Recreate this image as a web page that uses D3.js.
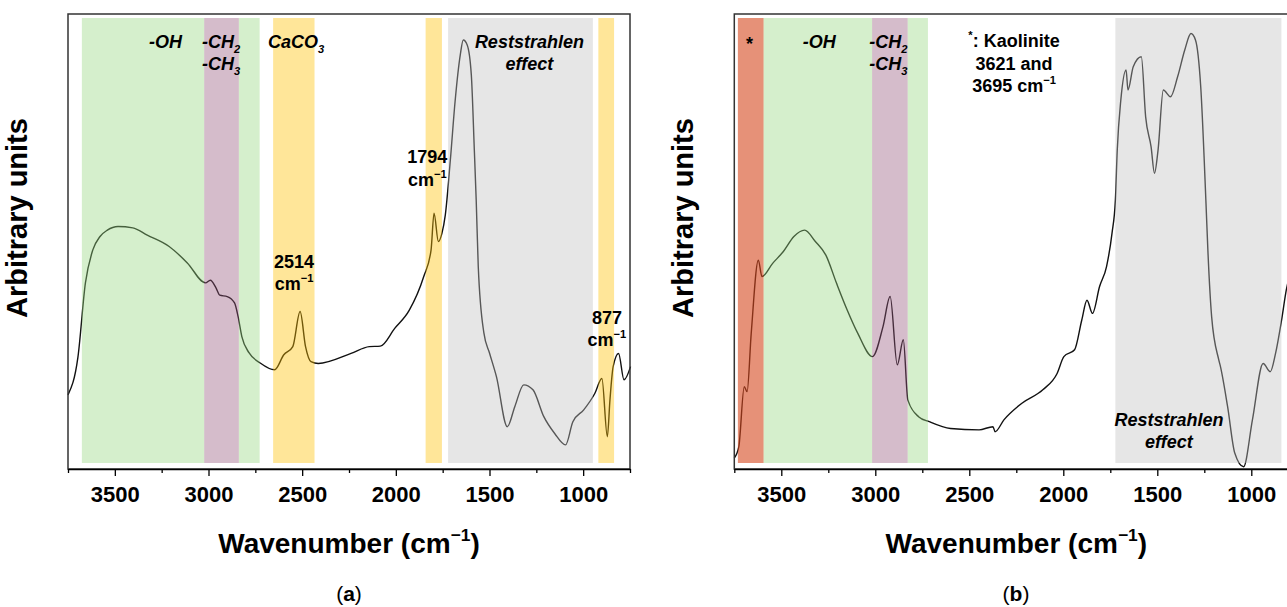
<!DOCTYPE html>
<html>
<head>
<meta charset="utf-8">
<script src="https://cdn.jsdelivr.net/npm/d3@7"></script>
<style>
  body { margin: 0; background: #fff; }
  text { font-family: "Liberation Sans", Arial, sans-serif; }
</style>
</head>
<body>
<svg id="fig" width="1287" height="607"></svg>
<script>

// spectrum (a)
var wnA = [3750,3697,3657,3618,3579,3540,3483,3404,3327,3210,3113,3016,2990,2960,2940,2900,2861,2842,2822,2783,2724,2647,2598,2550,2511,2482,2453,2414,2239,2142,2083,2006,1928,1851,1812,1796,1773,1754,1736,1709,1683,1656,1640,1619,1597,1581,1571,1560,1530,1500,1463,1405,1365,1317,1268,1210,1152,1094,1055,997,938,900,871,857,840,811,782,747];
var absA = [16.3,24.6,40.9,48.1,51.1,52.5,53.3,53.0,51.4,48.9,45.3,40.9,41.5,39.8,38.2,37.9,36.5,33.5,29.1,25.5,23.3,21.8,25.1,26.9,34.6,26.9,23.6,23.2,25.4,26.9,27.0,30.9,34.9,42.3,48.1,56.2,50.0,51.8,55.8,67.9,81.1,91.0,94.3,93.2,86.6,70.1,59.1,44.5,29.9,25.5,20.3,9.3,13.7,18.5,17.4,11.5,7.8,5.3,10.4,13.0,16.6,19.9,7.1,15.2,22.5,25.4,19.6,22.5];

// spectrum (b)
var wnB = [3750,3726,3697,3682,3660,3622,3603,3546,3489,3433,3376,3319,3263,3206,3149,3093,3015,2959,2921,2883,2851,2827,2770,2713,2600,2448,2374,2363,2316,2222,2109,2033,1997,1940,1902,1874,1845,1807,1770,1741,1723,1713,1694,1666,1656,1628,1585,1562,1533,1515,1496,1468,1430,1392,1354,1321,1297,1269,1241,1231,1211,1173,1164,1126,1088,1041,994,937,899,871,839,814,800];
var absB = [2.4,4.9,18.1,17.0,29.8,45.9,42.3,45.2,47.8,51.1,52.5,50.0,47.0,40.8,34.9,29.8,24.7,31.3,37.9,22.9,28.4,15.2,11.5,10.4,8.9,8.6,9.3,8.2,10.8,14.4,17.4,21.0,24.7,26.2,32.7,37.1,34.2,40.1,44.5,51.8,59.1,70.1,81.1,87.7,83.3,88.4,90.6,77.4,70.8,65.0,70.1,83.3,81.8,86.2,92.1,95.7,94.3,84.0,58.4,48.1,33.5,24.0,22.5,13.7,3.5,0.5,10.8,23.2,21.4,25.4,32.7,39.3,42];

// shaded regions [from, to, kind]
var bandsA = [[3676,3023,"oh"],[2838,2727,"oh"],[3023,2838,"ch"],[2655,2434,"ca"],[1841,1754,"ca"],[1721,948,"rs"],[919,835,"ca"]];
var bandsB = [[3731,3594,"ka"],[3594,3017,"oh"],[2828,2720,"oh"],[3017,2828,"ch"],[1723,840,"rs"]];

var xDomain = [3750, 750];
var yDomain = [0, 100];
var tickVals = d3.range(3750, 749, -250);

var bandColor = { oh: "rgb(150,215,127)", ch: "rgb(150,87,125)", ca: "rgb(255,192,0)", rs: "rgb(192,192,192)", ka: "rgb(213,72,30)" };
var bandAlpha = { oh: 0.4, ch: 0.4, ca: 0.4, rs: 0.4, ka: 0.6 };

var svg = d3.select("#fig");

function label(g, x, y, parts, opts) {
  // parts: [text, "sub"|"sup"|null]
  var t = g.append("text")
    .attr("x", x).attr("y", y)
    .attr("text-anchor", opts.anchor || "start")
    .attr("font-size", opts.size || 18)
    .attr("font-weight", "bold")
    .attr("font-style", opts.italic ? "italic" : "normal")
    .attr("fill", "#000");
  var shift = 0;
  parts.forEach(function(p) {
    var s = t.append("tspan").text(p[0]);
    var want = p[1] == "sub" ? 5 : p[1] == "sup" ? -Math.round((opts.size || 18) * 0.42) : 0;
    if (want != shift) { s.attr("dy", want - shift); shift = want; }
    if (p[1]) s.attr("font-size", (opts.size || 18) * 0.62);
  });
  return t;
}

function panel(box, wn, ab, bands) {
  var x = d3.scaleLinear().domain(xDomain).range([box.left, box.right]);
  var y = d3.scaleLinear().domain(yDomain).range([box.bottom, box.top]);
  var g = svg.append("g");

  var pts = wn.map(function(d, i) { return [d, ab[i]]; });
  var line = d3.line()
    .x(function(d) { return x(d[0]); })
    .y(function(d) { return y(d[1]); })
    .curve(d3.curveMonotoneX);

  g.append("path").datum(pts)
    .attr("d", line)
    .attr("fill", "none")
    .attr("stroke", "#111")
    .attr("stroke-width", 1.4);

  g.selectAll("rect.band").data(bands).enter().append("rect")
    .attr("class", "band")
    .attr("x", function(d) { return x(d[0]); })
    .attr("width", function(d) { return x(d[1]) - x(d[0]); })
    .attr("y", box.top + 4)
    .attr("height", box.bottom - box.top - 10)
    .attr("fill", function(d) { return bandColor[d[2]]; })
    .attr("fill-opacity", function(d) { return bandAlpha[d[2]]; });

  g.append("rect")
    .attr("x", box.left).attr("y", box.top)
    .attr("width", box.right - box.left).attr("height", box.bottom - box.top)
    .attr("fill", "none").attr("stroke", "#333").attr("stroke-width", 1.5);

  var ax = g.append("g")
    .attr("transform", "translate(0," + box.bottom + ")")
    .call(d3.axisBottom(x).tickValues(tickVals).tickSizeOuter(0)
      .tickFormat(function(d) { return d % 500 == 0 ? d : ""; }));
  ax.select(".domain").attr("stroke", "#000").attr("stroke-width", 1.5);
  ax.selectAll(".tick line").attr("stroke", "#000").attr("stroke-width", 1.3)
    .attr("y2", function(d) { return d % 500 == 0 ? 7 : 4; });
  ax.selectAll(".tick text")
    .attr("y", 33).attr("dy", 0)
    .attr("font-size", 22).attr("font-weight", "bold")
    .attr("font-family", "Liberation Sans, Arial, sans-serif")
    .attr("fill", "#000");

  var cx = (box.left + box.right) / 2;
  label(g, cx, 553, [["Wavenumber (cm", null], ["\u22121", "sup"], [")", null]], { anchor: "middle", size: 28 });

  g.append("text")
    .attr("transform", "translate(" + (box.left - 41) + ",218) rotate(-90)")
    .attr("text-anchor", "middle")
    .attr("font-size", 29).attr("font-weight", "bold")
    .text("Arbitrary units");

  return { g: g, x: x, y: y };
}

var pa = panel({ left: 68, right: 630, top: 14, bottom: 469 }, wnA, absA, bandsA);
var pb = panel({ left: 734.3, right: 1298.3, top: 14, bottom: 469 }, wnB, absB, bandsB);

// annotations (a)
var g = pa.g, x = pa.x;
label(g, x(3317), 48, [["-OH", null]], { italic: true });
label(g, x(3035), 48, [["-CH", null], ["2", "sub"]], { italic: true });
label(g, x(3035), 70, [["-CH", null], ["3", "sub"]], { italic: true });
label(g, x(2682), 48, [["CaCO", null], ["3", "sub"]], { italic: true });
label(g, x(1287), 48, [["Reststrahlen", null]], { italic: true, anchor: "middle" });
label(g, x(1287), 70, [["effect", null]], { italic: true, anchor: "middle" });
label(g, x(1832), 163, [["1794", null]], { anchor: "middle" });
label(g, x(1832), 186, [["cm", null], ["\u22121", "sup"]], { anchor: "middle" });
label(g, x(2543), 268, [["2514", null]], { anchor: "middle" });
label(g, x(2543), 290, [["cm", null], ["\u22121", "sup"]], { anchor: "middle" });
label(g, x(873), 324, [["877", null]], { anchor: "middle" });
label(g, x(873), 346, [["cm", null], ["\u22121", "sup"]], { anchor: "middle" });

// annotations (b)
g = pb.g; x = pb.x;
label(g, x(3669), 50, [["*", null]], { anchor: "middle" });
label(g, x(3386), 48, [["-OH", null]], { italic: true });
label(g, x(3032), 48, [["-CH", null], ["2", "sub"]], { italic: true });
label(g, x(3032), 70, [["-CH", null], ["3", "sub"]], { italic: true });
label(g, x(2262), 47, [["*", "sup"], [": Kaolinite", null]], { anchor: "middle" });
label(g, x(2262), 70, [["3621 and", null]], { anchor: "middle" });
label(g, x(2262), 92, [["3695 cm", null], ["\u22121", "sup"]], { anchor: "middle" });
label(g, x(1438), 426, [["Reststrahlen", null]], { italic: true, anchor: "middle" });
label(g, x(1438), 448, [["effect", null]], { italic: true, anchor: "middle" });

// panel captions
[[349, "a"], [1016, "b"]].forEach(function(c) {
  var t = svg.append("text").attr("x", c[0]).attr("y", 601)
    .attr("text-anchor", "middle").attr("font-size", 21)
    .attr("font-family", "Liberation Serif, Times New Roman, serif");
  t.append("tspan").text("(");
  t.append("tspan").attr("font-weight", "bold").text(c[1]);
  t.append("tspan").text(")");
});
</script>
</body>
</html>
